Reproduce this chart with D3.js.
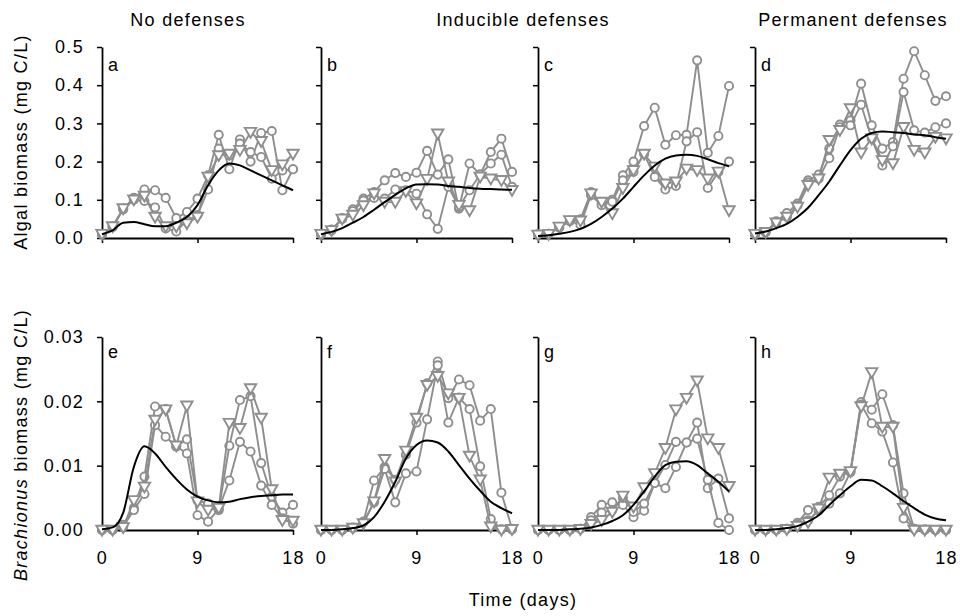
<!DOCTYPE html>
<html>
<head>
<meta charset="utf-8">
<script src="https://cdn.jsdelivr.net/npm/d3@7"></script>
<style>
  body { margin: 0; background: #fff; }
  text { font-family: "Liberation Sans", Arial, sans-serif; }
</style>
</head>
<body>
<div id="chart"></div>
<script>
const days = [0, 1, 2, 3, 4, 5, 6, 7, 8, 9, 10, 11, 12, 13, 14, 15, 16, 17, 18];
const columnTitles = ["No defenses", "Inducible defenses", "Permanent defenses"];
const algaeTicks = [0, 0.1, 0.2, 0.3, 0.4, 0.5];
const rotiferTicks = [0, 0.01, 0.02, 0.03];
const dayTicks = [0, 9, 18];

// algae, replicates: circle, circle, triangle
const algaeA = [
  [0.01, 0.03, 0.077, 0.105, 0.127, 0.125, 0.105, 0.052, 0.068, 0.103, 0.164, 0.27, 0.18, 0.258, 0.2, 0.275, 0.28, 0.125, 0.18],
  [0.01, 0.028, 0.075, 0.1, 0.097, 0.08, 0.025, 0.017, 0.046, 0.06, 0.127, 0.234, 0.216, 0.247, 0.225, 0.212, 0.155, 0.177, 0.18],
  [0.01, 0.03, 0.077, 0.1, 0.11, 0.055, 0.03, 0.03, 0.038, 0.055, 0.16, 0.216, 0.22, 0.23, 0.277, 0.253, 0.177, 0.192, 0.22]
];
const algaeB = [
  [0.01, 0.022, 0.052, 0.075, 0.103, 0.12, 0.151, 0.17, 0.16, 0.171, 0.228, 0.166, 0.206, 0.077, 0.195, 0.166, 0.225, 0.26, 0.173],
  [0.01, 0.02, 0.05, 0.07, 0.098, 0.105, 0.103, 0.127, 0.125, 0.116, 0.062, 0.024, 0.134, 0.081, 0.125, 0.166, 0.195, 0.218, 0.134],
  [0.01, 0.02, 0.05, 0.06, 0.085, 0.116, 0.094, 0.094, 0.122, 0.09, 0.154, 0.273, 0.147, 0.086, 0.072, 0.16, 0.155, 0.151, 0.125]
];
const algaeC = [
  [0.01, 0.011, 0.029, 0.046, 0.049, 0.12, 0.09, 0.1, 0.164, 0.2, 0.293, 0.341, 0.244, 0.269, 0.27, 0.465, 0.223, 0.267, 0.398],
  [0.01, 0.011, 0.027, 0.044, 0.035, 0.112, 0.086, 0.095, 0.151, 0.173, 0.22, 0.16, 0.127, 0.136, 0.253, 0.277, 0.131, 0.173, 0.2],
  [0.008, 0.01, 0.029, 0.046, 0.045, 0.116, 0.094, 0.064, 0.13, 0.177, 0.22, 0.186, 0.142, 0.147, 0.181, 0.177, 0.155, 0.173, 0.072]
];
const algaeD = [
  [0.01, 0.015, 0.044, 0.065, 0.09, 0.151, 0.166, 0.234, 0.297, 0.308, 0.404, 0.295, 0.234, 0.251, 0.417, 0.489, 0.426, 0.359, 0.371],
  [0.01, 0.015, 0.04, 0.055, 0.085, 0.145, 0.155, 0.209, 0.29, 0.295, 0.349, 0.26, 0.19, 0.24, 0.382, 0.282, 0.276, 0.29, 0.3],
  [0.01, 0.015, 0.04, 0.055, 0.081, 0.138, 0.155, 0.256, 0.282, 0.339, 0.223, 0.26, 0.203, 0.195, 0.29, 0.23, 0.223, 0.264, 0.26]
];

// Brachionus
const rotiferE = [
  [0, 0, 0.0008, 0.0034, 0.0083, 0.0192, 0.0188, 0.013, 0.0141, 0.0046, 0.0041, 0.0031, 0.0131, 0.0202, 0.0208, 0.0104, 0.0052, 0.0027, 0.0039],
  [0, 0, 0.0005, 0.0031, 0.0056, 0.0163, 0.0145, 0.013, 0.0119, 0.0023, 0.0013, 0.0033, 0.0077, 0.0137, 0.0122, 0.0069, 0.0039, 0.0018, 0.001],
  [0, 0, 0.0004, 0.0046, 0.0067, 0.0171, 0.0187, 0.0131, 0.0193, 0.0044, 0.0031, 0.0034, 0.0166, 0.0158, 0.022, 0.0174, 0.0063, 0.0015, 0.0014]
];
const rotiferF = [
  [0, 0, 0, 0.0004, 0.0013, 0.0077, 0.0098, 0.0078, 0.0117, 0.0167, 0.0228, 0.0262, 0.0205, 0.0234, 0.0225, 0.017, 0.0188, 0.0058, 0.0002],
  [0, 0, 0, 0.0003, 0.0012, 0.0043, 0.0095, 0.0043, 0.0088, 0.0091, 0.0172, 0.0256, 0.0167, 0.0206, 0.0188, 0.0099, 0.0017, 0.0001, 0.0001],
  [0, 0, 0, 0.0003, 0.001, 0.0044, 0.011, 0.0075, 0.0123, 0.0174, 0.0225, 0.0239, 0.0212, 0.0205, 0.0115, 0.0078, 0.0005, 0, 0.0001]
];
const rotiferG = [
  [0, 0, 0, 0, 0.0002, 0.002, 0.0039, 0.0043, 0.0039, 0.002, 0.003, 0.0073, 0.0101, 0.0137, 0.0136, 0.0167, 0.0065, 0.008, 0.0018],
  [0, 0, 0, 0, 0.0002, 0.0015, 0.0027, 0.0031, 0.005, 0.0028, 0.0041, 0.0073, 0.0065, 0.0098, 0.0136, 0.0142, 0.0078, 0.0011, 0],
  [0, 0, 0, 0, 0.0001, 0.0009, 0.0015, 0.0028, 0.0053, 0.0036, 0.0066, 0.0088, 0.0127, 0.0187, 0.0205, 0.0232, 0.0142, 0.0127, 0.0068]
];
const rotiferH = [
  [0, 0, 0, 0.0002, 0.0011, 0.0031, 0.0036, 0.0054, 0.0083, 0.0091, 0.0199, 0.0187, 0.0211, 0.0163, 0.0057, 0.0002, 0.0001, 0, 0],
  [0, 0, 0, 0.0002, 0.0008, 0.0015, 0.003, 0.0041, 0.0057, 0.009, 0.0195, 0.0166, 0.0153, 0.0105, 0.0018, 0.0002, 0, 0, 0],
  [0, 0, 0, 0.0001, 0.0006, 0.0012, 0.0033, 0.0081, 0.0087, 0.0091, 0.0192, 0.0245, 0.016, 0.016, 0.0034, 0, 0, 0, 0]
];

// model predictions (black lines)
const modelA = [0.01, 0.02, 0.04, 0.042, 0.036, 0.031, 0.031, 0.04, 0.055, 0.086, 0.138, 0.177, 0.195, 0.19, 0.177, 0.164, 0.151, 0.138, 0.125];
const modelB = [0.01, 0.016, 0.026, 0.04, 0.055, 0.074, 0.094, 0.113, 0.13, 0.14, 0.141, 0.14, 0.136, 0.134, 0.131, 0.129, 0.128, 0.127, 0.126];
const modelC = [0.005, 0.007, 0.011, 0.016, 0.024, 0.037, 0.055, 0.077, 0.103, 0.134, 0.164, 0.19, 0.208, 0.216, 0.218, 0.215, 0.206, 0.196, 0.188];
const modelD = [0.012, 0.017, 0.026, 0.037, 0.055, 0.079, 0.112, 0.148, 0.19, 0.23, 0.26, 0.275, 0.279, 0.277, 0.275, 0.271, 0.269, 0.264, 0.26];
const modelE = [0.0001, 0.0004, 0.0027, 0.0098, 0.013, 0.0119, 0.0098, 0.0079, 0.0063, 0.0052, 0.0046, 0.0043, 0.0044, 0.0048, 0.0051, 0.0053, 0.0054, 0.0055, 0.0055];
const modelF = [0, 0, 0.0001, 0.0003, 0.0007, 0.002, 0.0044, 0.0075, 0.0111, 0.0132, 0.0139, 0.0136, 0.0122, 0.0101, 0.008, 0.0061, 0.0044, 0.0034, 0.0026];
const modelG = [0, 0, 0, 0.0001, 0.0002, 0.0004, 0.0008, 0.0014, 0.0023, 0.0039, 0.006, 0.0083, 0.0101, 0.0106, 0.0107, 0.0101, 0.0088, 0.0075, 0.006];
const modelH = [0, 0, 0.0001, 0.0003, 0.0006, 0.0013, 0.0023, 0.0039, 0.0054, 0.0068, 0.0078, 0.0077, 0.0068, 0.0057, 0.0045, 0.0034, 0.0024, 0.0018, 0.0015];

const panels = [
  { letter: "a", row: 0, col: 0, reps: algaeA, model: modelA },
  { letter: "b", row: 0, col: 1, reps: algaeB, model: modelB },
  { letter: "c", row: 0, col: 2, reps: algaeC, model: modelC },
  { letter: "d", row: 0, col: 3, reps: algaeD, model: modelD },
  { letter: "e", row: 1, col: 0, reps: rotiferE, model: modelE },
  { letter: "f", row: 1, col: 1, reps: rotiferF, model: modelF },
  { letter: "g", row: 1, col: 2, reps: rotiferG, model: modelG },
  { letter: "h", row: 1, col: 3, reps: rotiferH, model: modelH }
];

const W = 960, H = 616;
const colLeft = [102, 321, 538, 755], panelW = 191;
const rowTop = [47, 337], rowBottom = [238, 530];
const grey = "#8e8e8e";
const fontSize = 18, spacing = "1.3px";

const svg = d3.select("#chart").append("svg")
  .attr("width", W).attr("height", H);

const marker = ["circle", "circle", "triangle"];
const triPath = d3.symbol().type(d3.symbolTriangle).size(56)();

panels.forEach(p => {
  const x = d3.scaleLinear().domain([0, 18]).range([colLeft[p.col], colLeft[p.col] + panelW]);
  const y = d3.scaleLinear()
    .domain(p.row === 0 ? [0, 0.5] : [0, 0.03])
    .range([rowBottom[p.row], rowTop[p.row]]);

  const g = svg.append("g");

  // axes
  const yAx = d3.axisLeft(y)
    .tickValues(p.row === 0 ? algaeTicks : rotiferTicks)
    .tickSize(5).tickSizeOuter(0).tickPadding(13)
    .tickFormat(p.col === 0 ? d3.format(p.row === 0 ? ".1f" : ".2f") : "");
  const xAx = d3.axisBottom(x)
    .tickValues(dayTicks)
    .tickSize(5).tickSizeOuter(0).tickPadding(16)
    .tickFormat(p.row === 1 ? d3.format("d") : "");

  [g.append("g").attr("transform", `translate(${colLeft[p.col]},0)`).call(yAx),
   g.append("g").attr("transform", `translate(0,${rowBottom[p.row]})`).call(xAx)]
    .forEach(a => {
      a.select(".domain").attr("stroke", "#000").attr("stroke-width", 1.8);
      a.selectAll(".tick line").attr("stroke", "#000").attr("stroke-width", 1.5);
      a.selectAll(".tick text")
        .attr("fill", "#000")
        .style("font-size", fontSize + "px")
        .style("letter-spacing", spacing);
    });

  // replicate series
  const line = d3.line().x((d, i) => x(days[i])).y(d => y(d));
  p.reps.forEach((vals, k) => {
    g.append("path").datum(vals)
      .attr("d", line)
      .attr("fill", "none")
      .attr("stroke", grey)
      .attr("stroke-width", 1.9);

    if (marker[k] === "circle") {
      g.selectAll(null).data(vals).enter().append("circle")
        .attr("cx", (d, i) => x(days[i]))
        .attr("cy", d => y(d))
        .attr("r", 4.1)
        .attr("fill", "#fff")
        .attr("stroke", grey)
        .attr("stroke-width", 1.9);
    } else {
      g.selectAll(null).data(vals).enter().append("path")
        .attr("d", triPath)
        .attr("transform", (d, i) => `translate(${x(days[i])},${y(d) - 1}) rotate(180)`)
        .attr("fill", "#fff")
        .attr("stroke", grey)
        .attr("stroke-width", 1.9);
    }
  });

  // model line
  g.append("path").datum(p.model)
    .attr("d", d3.line().x((d, i) => x(days[i])).y(d => y(d)).curve(d3.curveMonotoneX))
    .attr("fill", "none")
    .attr("stroke", "#000")
    .attr("stroke-width", 2);

  // panel letter
  g.append("text")
    .attr("x", colLeft[p.col] + 6)
    .attr("y", rowTop[p.row] + (p.row === 0 ? 24 : 21))
    .style("font-size", fontSize + "px")
    .text(p.letter);
});

// column titles
const titleX = [188, 523, 853];
columnTitles.forEach((t, i) => {
  svg.append("text")
    .attr("x", titleX[i]).attr("y", 26)
    .attr("text-anchor", "middle")
    .style("font-size", fontSize + "px")
    .style("letter-spacing", spacing)
    .text(t);
});

// axis titles
svg.append("text")
  .attr("x", 523).attr("y", 606)
  .attr("text-anchor", "middle")
  .style("font-size", fontSize + "px")
  .style("letter-spacing", spacing)
  .text("Time (days)");

svg.append("text")
  .attr("transform", "translate(27,142) rotate(-90)")
  .attr("text-anchor", "middle")
  .style("font-size", fontSize + "px")
  .style("letter-spacing", spacing)
  .text("Algal biomass (mg C/L)");

const yl2 = svg.append("text")
  .attr("transform", "translate(27,445) rotate(-90)")
  .attr("text-anchor", "middle")
  .style("font-size", fontSize + "px")
  .style("letter-spacing", spacing);
yl2.append("tspan").style("font-style", "italic").text("Brachionus");
yl2.append("tspan").text(" biomass (mg C/L)");
</script>
</body>
</html>
